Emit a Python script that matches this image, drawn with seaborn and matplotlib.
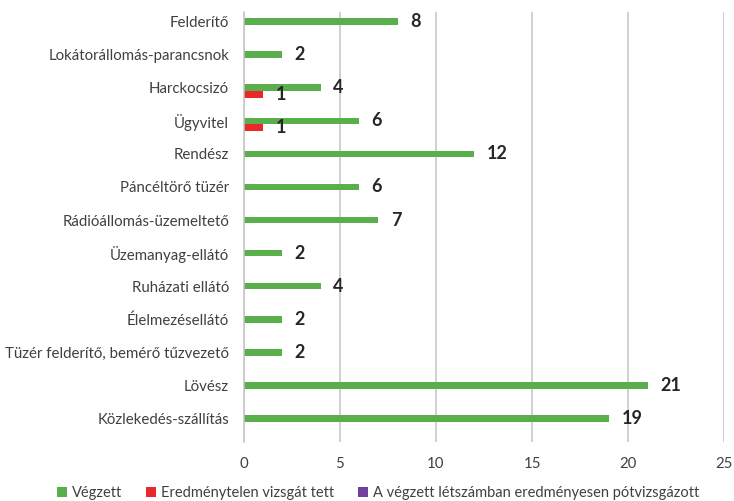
import matplotlib
matplotlib.use("Agg")

import matplotlib.pyplot as plt
import seaborn as sns
import pandas as pd

# Data (top to bottom)
categories = [
    "Felderítő",
    "Lokátorállomás-parancsnok",
    "Harckocsizó",
    "Ügyvitel",
    "Rendész",
    "Páncéltörő tüzér",
    "Rádióállomás-üzemeltető",
    "Üzemanyag-ellátó",
    "Ruházati ellátó",
    "Élelmezésellátó",
    "Tüzér felderítő, bemérő tűzvezető",
    "Lövész",
    "Közlekedés-szállítás",
]
vegzett = [8, 2, 4, 6, 12, 6, 7, 2, 4, 2, 2, 21, 19]
eredmenytelen = [0, 0, 1, 1, 0, 0, 0, 0, 0, 0, 0, 0, 0]
potvizsga = [0, 0, 0, 0, 0, 0, 0, 0, 0, 0, 0, 0, 0]

series_names = [
    "Végzett",
    "Eredménytelen vizsgát tett",
    "A végzett létszámban eredményesen pótvizsgázott",
]
colors = ["#5AAE4C", "#E8282B", "#7040A0"]
x_ticks = [0, 5, 10, 15, 20, 25]


def main():
    sns.set_style("white")
    plt.rcParams["font.family"] = ["Lato", "DejaVu Sans"]

    df = pd.DataFrame({
        "kategoria": categories * 3,
        "ertek": vegzett + eredmenytelen + potvizsga,
        "sorozat": [series_names[0]] * len(categories)
        + [series_names[1]] * len(categories)
        + [series_names[2]] * len(categories),
    })

    fig = plt.figure(figsize=(7.34, 5.01), dpi=100)
    ax = fig.add_axes([0.332, 0.118, 0.655, 0.858])

    group_width = 0.63
    sns.barplot(
        data=df, x="ertek", y="kategoria", hue="sorozat",
        order=categories, hue_order=series_names, palette=colors,
        orient="h", width=group_width, gap=0.05, ax=ax,
        edgecolor="none", saturation=1,
    )

    # value labels, skip zeros
    for cont in ax.containers:
        vals = cont.datavalues
        labels = [f"{v:g}" if v > 0 else "" for v in vals]
        ax.bar_label(cont, labels=labels, padding=9, fontsize=13,
                     fontweight="bold", color="#262626")

    # category labels sit level with the first (green) bar, as in Excel
    shift = group_width / len(series_names)
    ax.set_yticks([i - shift for i in range(len(categories))])
    ax.set_yticklabels(categories)

    ax.set_xlim(0, 25)
    ax.set_xticks(x_ticks)
    ax.set_ylim(12.5, -0.5)
    ax.set_xlabel("")
    ax.set_ylabel("")
    ax.grid(axis="x", color="#C3C3C3", linewidth=1.1)
    ax.set_axisbelow(True)
    for side in ["top", "right", "bottom"]:
        ax.spines[side].set_visible(False)
    ax.spines["left"].set_color("#C3C3C3")
    ax.spines["left"].set_linewidth(1.1)
    ax.tick_params(axis="y", length=0, pad=10.5, labelsize=10.8, labelcolor="#404040")
    ax.tick_params(axis="x", length=0, pad=11, labelsize=10.8, labelcolor="#404040")

    handles, labels = ax.get_legend_handles_labels()
    ax.get_legend().remove()
    fig.legend(handles, labels, loc="lower center", bbox_to_anchor=(0.515, -0.025),
               ncol=3, frameon=False, fontsize=10.5, handlelength=0.7,
               handleheight=0.7, handletextpad=0.35, columnspacing=1.6,
               labelcolor="#404040")

    fig.savefig("out.png", dpi=100)
    plt.close(fig)


if __name__ == "__main__":
    main()
